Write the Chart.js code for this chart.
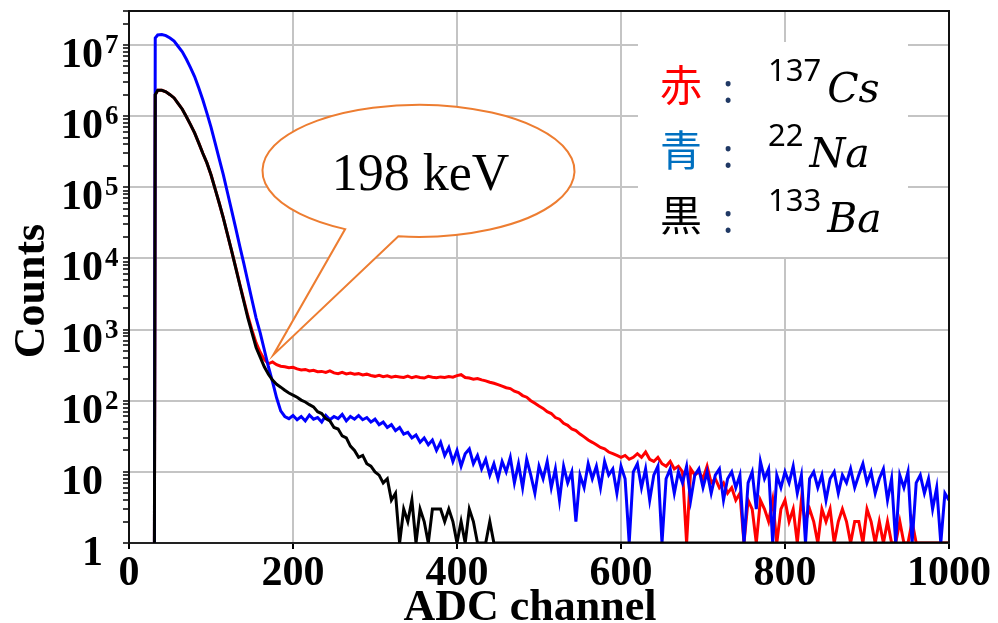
<!DOCTYPE html>
<html>
<head>
<meta charset="utf-8">
<title>Spectra</title>
<script src="https://cdn.jsdelivr.net/npm/chart.js"></script>
<style>
  html, body { margin: 0; padding: 0; background: #fff; }
  canvas { display: block; }
</style>
</head>
<body>
<canvas id="spectrum" width="998" height="623"></canvas>
<script>
// ADC channel bins; the first bin sits just below the threshold
var channels = [
  31, 32, 35, 40, 45, 50, 55, 60, 65, 70,
  75, 80, 85, 90, 95, 100, 105, 110, 115, 120,
  125, 130, 135, 140, 145, 150, 155, 160, 165, 170,
  175, 180, 185, 190, 195, 200, 205, 210, 215, 220,
  225, 230, 235, 240, 245, 250, 255, 260, 265, 270,
  275, 280, 285, 290, 295, 300, 305, 310, 315, 320,
  325, 330, 335, 340, 345, 350, 355, 360, 365, 370,
  375, 380, 385, 390, 395, 400, 405, 410, 415, 420,
  425, 430, 435, 440, 445, 450, 455, 460, 465, 470,
  475, 480, 485, 490, 495, 500, 505, 510, 515, 520,
  525, 530, 535, 540, 545, 550, 555, 560, 565, 570,
  575, 580, 585, 590, 595, 600, 605, 610, 615, 620,
  625, 630, 635, 640, 645, 650, 655, 660, 665, 670,
  675, 680, 685, 690, 695, 700, 705, 710, 715, 720,
  725, 730, 735, 740, 745, 750, 755, 760, 765, 770,
  775, 780, 785, 790, 795, 800, 805, 810, 815, 820,
  825, 830, 835, 840, 845, 850, 855, 860, 865, 870,
  875, 880, 885, 890, 895, 900, 905, 910, 915, 920,
  925, 930, 935, 940, 945, 950, 955, 960, 965, 970,
  975, 980, 985, 990, 995, 1000
];

// 137Cs (red)
var cs137 = [
  1, 2.0e6, 2.3e6, 2.3e6, 2.2e6, 2.0e6, 1.8e6, 1.5e6, 1.25e6, 9.8e5,
  7.6e5, 5.8e5, 4.2e5, 3.0e5, 2.2e5, 1.5e5, 9.5e4, 6.0e4, 3.7e4, 2.2e4,
  1.3e4, 7.6e3, 4.4e3, 2.6e3, 1550, 980, 650, 480, 380, 330,
  350, 320, 305, 300, 290, 295, 280, 270, 275, 262,
  268, 255, 258, 250, 262, 246, 240, 250, 238, 244,
  235, 240, 230, 236, 226, 220, 228, 218, 224, 214,
  220, 216, 212, 222, 210, 218, 212, 208, 220, 214,
  210, 216, 212, 218, 214, 225, 232, 212, 208, 200,
  205, 196, 190, 182, 176, 168, 160, 152, 148, 136,
  130, 118, 112, 100, 92, 84, 78, 70, 66, 58,
  55, 48, 45, 40, 38, 34, 31, 28, 26, 24,
  22, 21, 19, 18, 17, 16, 17, 15, 16, 18,
  16, 19, 15, 14, 16, 13, 12, 14, 11, 12,
  10, 1, 11, 9, 10, 8, 12, 7, 8, 6,
  7, 5, 6, 4, 5, 1, 4, 3, 1, 4,
  3, 2, 4, 1, 3, 4, 2, 3, 1, 4,
  2, 3, 2, 1, 3, 2, 3, 1, 2, 3,
  2, 1, 2, 2, 1, 3, 2, 1, 2, 1,
  2, 1, 1, 2, 1, 1, 2, 1, 1, 1,
  1, 1, 1, 1, 1, 1
];

// 22Na (blue)
var na22 = [
  1, 1.25e7, 1.38e7, 1.4e7, 1.35e7, 1.25e7, 1.13e7, 9.5e6, 8.0e6, 6.3e6,
  4.8e6, 3.6e6, 2.5e6, 1.7e6, 1.1e6, 7.0e5, 4.2e5, 2.5e5, 1.5e5, 8.5e4,
  4.8e4, 2.7e4, 1.5e4, 8.5e3, 4.7e3, 2.6e3, 1450, 900, 520, 300,
  185, 110, 72, 60, 56, 62, 54, 60, 52, 63,
  55, 58, 50, 62, 54, 60, 56, 64, 52, 60,
  55, 62, 54, 58, 50, 55, 46, 50, 42, 46,
  38, 42, 34, 36, 30, 33, 26, 30, 24, 28,
  20, 26, 17, 22, 14, 20, 12, 18, 21, 13,
  17, 11, 15, 9, 13, 8, 14, 10, 16, 7,
  13, 6, 15, 9, 5, 12, 8, 14, 6, 11,
  4, 12, 7, 10, 2, 9, 6, 13, 8, 12,
  6, 14, 9, 11, 5, 12, 8, 1, 10, 13,
  6, 11, 4, 9, 12, 1, 8, 11, 5, 10,
  7, 12, 4, 9, 11, 6, 10, 5, 9, 11,
  4, 8, 10, 6, 9, 1, 7, 10, 3, 14,
  8, 11, 1, 9, 6, 10, 7, 12, 5, 9,
  1, 8, 10, 6, 9, 4, 8, 10, 5, 9,
  7, 11, 6, 9, 13, 7, 10, 5, 8, 11,
  4, 8, 1, 9, 6, 10, 1, 7, 9, 5,
  8, 3, 6, 1, 5, 4
];

// 133Ba (black)
var ba133 = [
  1, 2.0e6, 2.3e6, 2.3e6, 2.2e6, 2.0e6, 1.8e6, 1.5e6, 1.25e6, 9.8e5,
  7.6e5, 5.8e5, 4.2e5, 3.0e5, 2.2e5, 1.5e5, 9.5e4, 6.0e4, 3.7e4, 2.2e4,
  1.3e4, 7.5e3, 4.3e3, 2.5e3, 1450, 900, 560, 410, 300, 235,
  195, 170, 155, 140, 128, 120, 112, 102, 96, 88,
  82, 70, 66, 56, 52, 42, 40, 32, 30, 23,
  20, 16, 17, 13, 12, 10, 9, 7, 8, 4,
  5, 1, 3, 2, 4, 1, 3, 2, 1, 3,
  3, 3, 2, 3, 2, 1, 2, 1, 3, 2,
  1, 1, 1, 2, 1, 1, 1, 1, 1, 1,
  1, 1, 1, 1, 1, 1, 1, 1, 1, 1,
  1, 1, 1, 1, 1, 1, 1, 1, 1, 1,
  1, 1, 1, 1, 1, 1, 1, 1, 1, 1,
  1, 1, 1, 1, 1, 1, 1, 1, 1, 1,
  1, 1, 1, 1, 1, 1, 1, 1, 1, 1,
  1, 1, 1, 1, 1, 1, 1, 1, 1, 1,
  1, 1, 1, 1, 1, 1, 1, 1, 1, 1,
  1, 1, 1, 1, 1, 1, 1, 1, 1, 1,
  1, 1, 1, 1, 1, 1, 1, 1, 1, 1,
  1, 1, 1, 1, 1, 1, 1, 1, 1, 1,
  1, 1, 1, 1, 1, 1
];

var xTicks = [0, 200, 400, 600, 800, 1000];
var yDecades = [1, 10, 100, 1000, 1e4, 1e5, 1e6, 1e7];
var yMax = 3e7;

var legendRows = [
  { name: '赤', color: '#ff0000', mass: '137', symbol: 'Cs' },
  { name: '青', color: '#0070c0', mass: '22', symbol: 'Na' },
  { name: '黒', color: '#000000', mass: '133', symbol: 'Ba' }
];

// speech bubble pointing at the Compton edge start
var calloutText = '198 keV';
var calloutTip = { x: 176, y: 440 };
var calloutCenter = { x: 353, y: 1.7e5 };

var SERIF = '"Liberation Serif", "Times New Roman", serif';

function toPoints(values) {
  return channels.map(function (ch, i) { return { x: ch, y: values[i] }; });
}

function series(label, values, color, order) {
  return {
    label: label,
    data: toPoints(values),
    borderColor: color,
    backgroundColor: color,
    borderWidth: 3,
    pointRadius: 0,
    tension: 0,
    fill: false,
    order: order
  };
}

var overlay = {
  id: 'overlay',
  afterDraw: function (chart) {
    var ctx = chart.ctx;
    var area = chart.chartArea;
    var xs = chart.scales.x;
    var ys = chart.scales.y;
    ctx.save();

    // top and right frame
    ctx.strokeStyle = '#111';
    ctx.lineWidth = 2;
    ctx.beginPath();
    ctx.moveTo(area.left, area.top);
    ctx.lineTo(area.right, area.top);
    ctx.lineTo(area.right, area.bottom);
    ctx.stroke();

    // y tick labels as 10 with a raised exponent
    ctx.fillStyle = '#000';
    ctx.textBaseline = 'alphabetic';
    yDecades.forEach(function (d, i) {
      var y = ys.getPixelForValue(d) + 22;
      ctx.font = 'bold 42px ' + SERIF;
      ctx.textAlign = 'right';
      ctx.fillText(i === 0 ? '1' : '10', area.left - 26, y);
      if (i > 1) {
        ctx.font = 'bold 27px ' + SERIF;
        ctx.textAlign = 'left';
        ctx.fillText(String(i), area.left - 24, y - 14);
      }
    });

    // axis titles
    ctx.font = 'bold 44px ' + SERIF;
    ctx.textAlign = 'center';
    ctx.fillText('ADC channel', 530, 620);
    ctx.save();
    ctx.translate(33, 291);
    ctx.rotate(-Math.PI / 2);
    ctx.textBaseline = 'middle';
    ctx.fillText('Counts', 0, 0);
    ctx.restore();

    // source legend
    ctx.fillStyle = '#fff';
    ctx.fillRect(638, 42, 270, 215);
    legendRows.forEach(function (row, i) {
      var cy = 85 + 65 * i;
      ctx.textAlign = 'left';
      ctx.textBaseline = 'middle';
      ctx.font = '42px "Noto Sans CJK JP"';
      ctx.fillStyle = row.color;
      ctx.fillText(row.name, 660, cy);
      ctx.textBaseline = 'alphabetic';
      ctx.textAlign = 'center';
      ctx.font = '40px "Noto Sans"';
      ctx.fillStyle = '#1f3864';
      ctx.fillText(':', 728, cy + 18);
      ctx.textAlign = 'left';
      ctx.fillStyle = '#000';
      ctx.font = '31px "Noto Sans"';
      ctx.fillText(row.mass, 768, cy - 4);
      var w = ctx.measureText(row.mass).width;
      ctx.font = 'italic 41px "DejaVu Serif"';
      ctx.fillText(row.symbol, 768 + w + 6, cy + 17);
    });

    // callout bubble
    var tipX = xs.getPixelForValue(calloutTip.x);
    var tipY = ys.getPixelForValue(calloutTip.y);
    var cx = xs.getPixelForValue(calloutCenter.x);
    var cy0 = ys.getPixelForValue(calloutCenter.y);
    ctx.beginPath();
    ctx.ellipse(cx, cy0, 156, 66, 0, 2.06, 1.70 + 2 * Math.PI);
    ctx.lineTo(tipX, tipY);
    ctx.closePath();
    ctx.fillStyle = '#fff';
    ctx.fill();
    ctx.strokeStyle = '#ed7d31';
    ctx.lineWidth = 2;
    ctx.stroke();
    ctx.fillStyle = '#000';
    ctx.font = '52px ' + SERIF;
    ctx.textAlign = 'center';
    ctx.textBaseline = 'alphabetic';
    ctx.fillText(calloutText, cx + 2, cy0 + 19);

    ctx.restore();
  }
};

var ctx = document.getElementById('spectrum').getContext('2d');
var chart = new Chart(ctx, {
  type: 'line',
  data: {
    datasets: [
      series('133Ba', ba133, '#000000', 0),
      series('22Na', na22, '#0000ff', 1),
      series('137Cs', cs137, '#ff0000', 2)
    ]
  },
  options: {
    responsive: false,
    animation: false,
    layout: { padding: { top: 11, right: 49, bottom: 0, left: 0 } },
    plugins: {
      legend: { display: false },
      tooltip: { enabled: false }
    },
    scales: {
      x: {
        type: 'linear',
        min: 0,
        max: 1000,
        afterBuildTicks: function (scale) {
          scale.ticks = xTicks.map(function (v) { return { value: v }; });
        },
        afterFit: function (scale) { scale.height = 80; },
        ticks: {
          autoSkip: false,
          maxRotation: 0,
          padding: 0,
          color: '#000',
          font: { family: SERIF, size: 42, weight: 'bold' },
          callback: function (v) { return String(v); }
        },
        grid: { color: '#c4c4c4', lineWidth: 2, tickColor: '#000', tickLength: 6, tickWidth: 2 },
        border: { color: '#222', width: 2 }
      },
      y: {
        type: 'logarithmic',
        min: 1,
        max: yMax,
        afterBuildTicks: function (scale) {
          var ticks = [];
          yDecades.forEach(function (d) {
            for (var m = 1; m <= 9; m++) {
              if (m * d <= yMax) ticks.push({ value: m * d, major: m === 1 });
            }
          });
          scale.ticks = ticks;
        },
        afterFit: function (scale) { scale.width = 129; },
        ticks: { display: false, autoSkip: false },
        grid: {
          color: function (c) { return c.tick && c.tick.major ? '#c4c4c4' : 'rgba(0,0,0,0)'; },
          lineWidth: 2,
          tickColor: '#000',
          tickLength: 6,
          tickWidth: 1.5
        },
        border: { color: '#111', width: 2 }
      }
    }
  },
  plugins: [overlay]
});
</script>
</body>
</html>
